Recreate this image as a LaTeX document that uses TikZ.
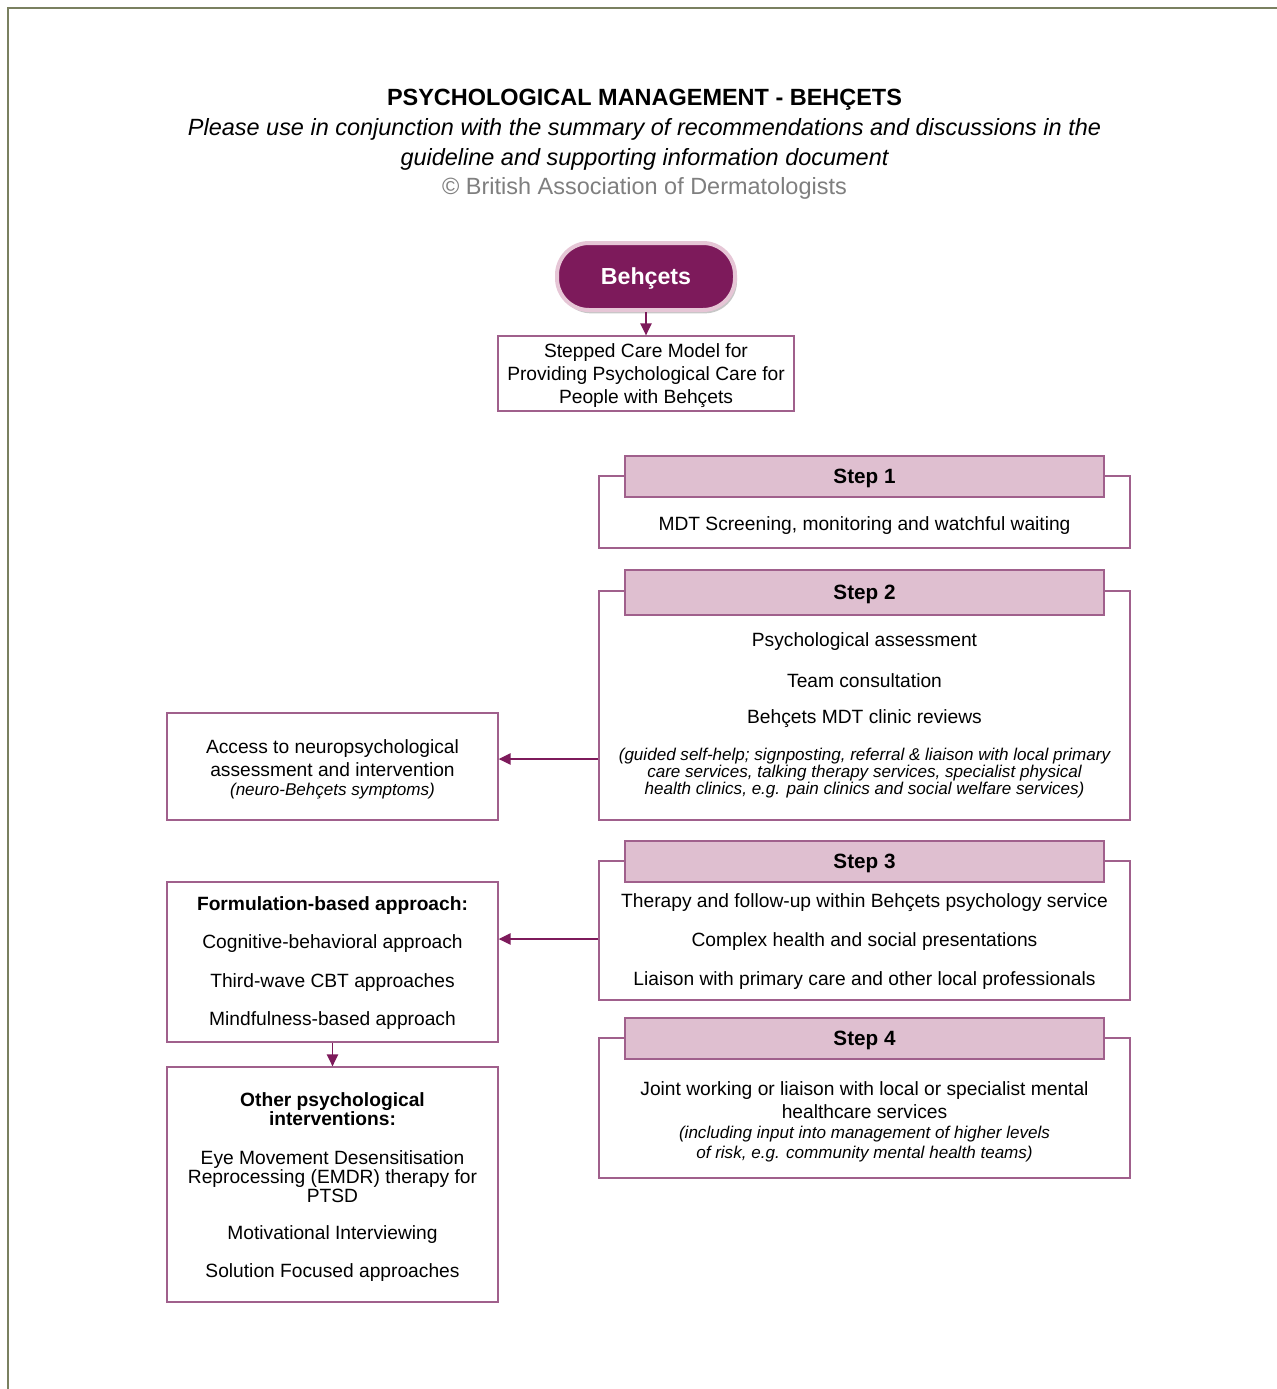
\documentclass[tikz,border=0pt]{standalone}
\usepackage{fontspec}
\setmainfont{Liberation Sans}
\usetikzlibrary{fit,arrows.meta,shadows}
\definecolor{plum}{HTML}{7D1A5B}
\definecolor{boxline}{HTML}{A0608C}
\definecolor{hdrfill}{HTML}{DFBFD0}
\definecolor{pillrim}{HTML}{E6C6D6}
\definecolor{framec}{HTML}{7A8060}
\definecolor{copyc}{HTML}{7F7F7F}
\begin{document}
\begin{tikzpicture}[x=0.75pt,y=-0.75pt,
  frame/.style={draw=framec,line width=1.5pt},
  box/.style={draw=boxline,line width=1pt,inner sep=0pt,fill=white},
  hdr/.style={draw=boxline,line width=1pt,fill=hdrfill,inner sep=0pt},
  pill/.style={draw=pillrim,line width=3pt,fill=plum,inner sep=0pt,rounded corners=24pt,
    drop shadow={shadow xshift=1.5pt,shadow yshift=-2.5pt,opacity=0.4,fill=black!55}},
  txt/.style={font=\fontsize{14.4}{17.3}\selectfont,align=center,inner sep=0pt,yshift=-1.8pt},
  btxt/.style={font=\fontsize{14.4}{17.3}\selectfont\bfseries,align=center,inner sep=0pt,yshift=-1.8pt},
  itxt/.style={font=\fontsize{12.8}{12.9}\selectfont\itshape,align=center,inner sep=0pt,yshift=-1.5pt},
  steptxt/.style={font=\fontsize{15.5}{18}\selectfont\bfseries,inner sep=0pt,yshift=-1.5pt},
  ttl/.style={font=\fontsize{17.6}{22.5}\selectfont,align=center,inner sep=0pt,yshift=-1.8pt},
  arr/.style={draw=plum,line width=1.1pt,-{Triangle[length=9pt,width=8.5pt]}}
]
\useasboundingbox (0,0) rectangle (1277,1389);
\fill[white] (0,0) rectangle (1277,1389);
\draw[frame] (8,1389) -- (8,8) -- (1277,8);

% title
\node[ttl,font=\fontsize{17.6}{22.5}\selectfont\bfseries] (title) at (644.5,97) {PSYCHOLOGICAL MANAGEMENT - BEHÇETS};
\node[ttl,font=\fontsize{17.6}{22.5}\selectfont\itshape] (sub) at (644.5,142) {Please use in conjunction with the summary of recommendations and discussions in the\\guideline and supporting information document};
\node[ttl,text=copyc] (copy) at (644.5,186) {© British Association of Dermatologists};

% top
\node[pill,fit={(557,243)(735,310)}] (beh) {};
\node[font=\fontsize{17.4}{20}\selectfont\bfseries,text=white,inner sep=0pt,yshift=-1.5pt] at (beh.center) {Behçets};
\node[box,fit={(498,336)(794,411)}] (scm) {};
\node[txt] at (646,373) {Stepped Care Model for\\Providing Psychological Care for\\People with Behçets};
\draw[arr] (beh) -- (scm);

% Step 1
\node[box,fit={(599,476)(1130,548)}] (s1) {};
\node[hdr,fit={(625,456)(1104,497)}] (h1) {};
\node[steptxt] at (h1.center) {Step 1};
\node[txt] at (864.5,523) {MDT Screening, monitoring and watchful waiting};

% Step 2
\node[box,fit={(599,591)(1130,820)}] (s2) {};
\node[hdr,fit={(625,570)(1104,615)}] (h2) {};
\node[steptxt] at (h2.center) {Step 2};
\node[txt] at (864.5,639) {Psychological assessment};
\node[txt] at (864.5,678) {Team consultation};
\node[txt] at (864.5,716) {Behçets MDT clinic reviews};
\node[itxt] at (864.5,771) {(guided self-help; signposting, referral \& liaison with local primary\\care services, talking therapy services, specialist physical\\health clinics, e.g. pain clinics and social welfare services)};

% Step 3
\node[box,fit={(599,861)(1130,1000)}] (s3) {};
\node[hdr,fit={(625,841)(1104,882)}] (h3) {};
\node[steptxt] at (h3.center) {Step 3};
\node[txt] at (864.5,900) {Therapy and follow-up within Behçets psychology service};
\node[txt] at (864.5,939) {Complex health and social presentations};
\node[txt] at (864.5,978) {Liaison with primary care and other local professionals};

% Step 4
\node[box,fit={(599,1038)(1130,1178)}] (s4) {};
\node[hdr,fit={(625,1018)(1104,1059)}] (h4) {};
\node[steptxt] at (h4.center) {Step 4};
\node[txt] at (864.5,1097.5) {Joint working or liaison with local or specialist mental\\healthcare services};
\node[itxt,font=\fontsize{12.8}{15}\selectfont\itshape] at (864.5,1142) {(including input into management of higher levels\\of risk, e.g. community mental health teams)};

% left boxes
\node[box,fit={(167,713)(498,820)}] (acc) {};
\node[txt] at (332.5,755.5) {Access to neuropsychological\\assessment and intervention};
\node[itxt] at (332.5,789) {(neuro-Behçets symptoms)};

\node[box,fit={(167,882)(498,1042)}] (form) {};
\node[btxt] at (332.5,903) {Formulation-based approach:};
\node[txt] at (332.5,941) {Cognitive-behavioral approach};
\node[txt] at (332.5,980) {Third-wave CBT approaches};
\node[txt] at (332.5,1018) {Mindfulness-based approach};

\node[box,fit={(167,1067)(498,1302)}] (oth) {};
\node[btxt,font=\fontsize{14.4}{14.25}\selectfont\bfseries] at (332.5,1106.5) {Other psychological\\interventions:};
\node[txt,font=\fontsize{14.4}{14.25}\selectfont] at (332.5,1174) {Eye Movement Desensitisation\\Reprocessing (EMDR) therapy for\\PTSD};
\node[txt] at (332.5,1232) {Motivational Interviewing};
\node[txt] at (332.5,1270) {Solution Focused approaches};

% connectors
\draw[arr] (s2.west |- 0,759) -- (acc.east |- 0,759);
\draw[arr] (s3.west |- 0,939) -- (form.east |- 0,939);
\draw[arr] (form) -- (oth);
\end{tikzpicture}
\end{document}
